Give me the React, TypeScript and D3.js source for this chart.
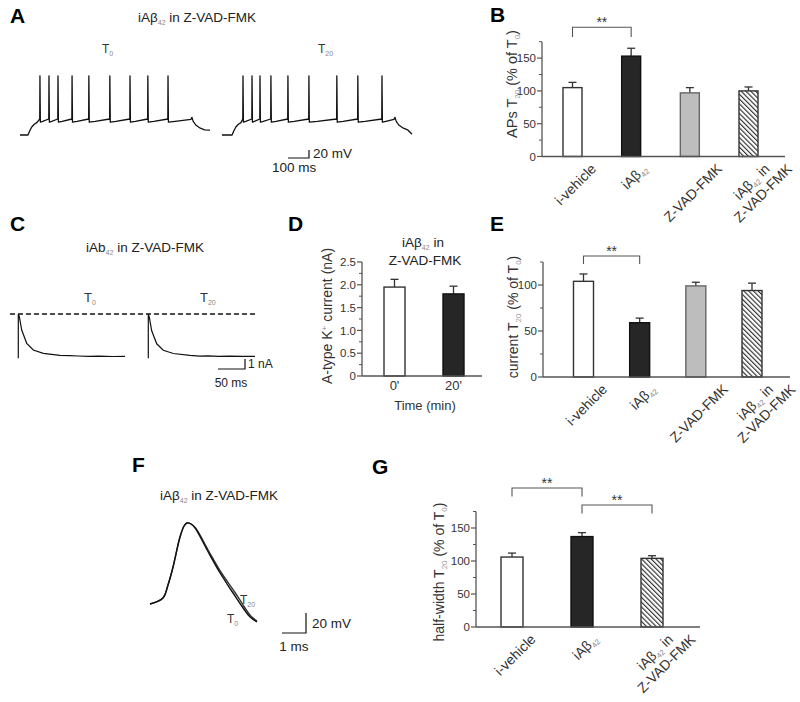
import React from "react";
import * as d3 from "d3";

const FONT = "'Liberation Sans', Arial, Helvetica, sans-serif";

// ---------------- data ----------------
// Panel B – APs T20 (% of T0)
const groupsB = ["i-vehicle", "iAβ42", "Z-VAD-FMK", "iAβ42 in|Z-VAD-FMK"];
const apsMean = [105, 153, 97, 100];
const apsSem = [8, 12, 8, 6];
const ticksB = [0, 50, 100, 150];

// Panel D – A-type K+ current (nA)
const timeGroups = ["0'", "20'"];
const kMean = [1.95, 1.8];
const kSem = [0.17, 0.17];
const ticksD = [0, 0.5, 1.0, 1.5, 2.0, 2.5];

// Panel E – current T20 (% of T0)
const groupsE = ["i-vehicle", "iAβ42", "Z-VAD-FMK", "iAβ42 in|Z-VAD-FMK"];
const currMean = [104, 59, 99, 94];
const currSem = [8, 5, 4, 8];
const ticksE = [0, 50, 100];

// Panel G – half-width T20 (% of T0)
const groupsG = ["i-vehicle", "iAβ42", "iAβ42 in|Z-VAD-FMK"];
const hwMean = [106, 137, 104];
const hwSem = [6, 6, 4];
const ticksG = [0, 50, 100, 150];

// Panel A – spike times (ms) in the two recordings
const apT0Spikes = [95, 138, 181, 248, 328, 428, 524, 609, 705];
const apT20Spikes = [100, 143, 181, 233, 314, 414, 547, 647, 762];

// Panel C – A-type current traces [ms, nA]
const iT0 = [[0, 0], [0, 4.43], [1.9, 4.16], [6.3, 2.83], [15.6, 1.5], [27.8, 0.83], [46.3, 0.5], [77.2, 0.3], [95, 0.26], [111, 0.23], [130, 0.2], [150, 0.22], [175, 0.18], [197.6, 0.2]];
const iT20 = [[0, 0], [0, 4.43], [1.9, 4.1], [6.3, 2.75], [15.6, 1.45], [27.8, 0.8], [46.3, 0.48], [77.2, 0.3], [95, 0.22], [111, 0.24], [130, 0.19], [150, 0.21], [175, 0.2], [197.6, 0.2]];

// Panel F – single AP waveforms [ms, mV rel.]
const apWaveT0 = [[0, 0], [0.54, 6], [0.75, 19], [0.96, 37], [1.25, 67], [1.42, 78], [1.54, 81], [1.71, 80], [1.88, 76], [2.38, 54], [2.92, 31], [3.46, 11], [3.88, -4], [4.17, -13], [4.46, -18]];
const apWaveT20 = [[0, 0], [0.54, 6], [0.75, 19], [0.96, 37], [1.25, 67], [1.42, 78], [1.54, 81], [1.71, 80], [1.9, 76], [2.42, 54], [2.98, 31], [3.53, 12], [3.93, -3], [4.2, -12], [4.46, -17]];

// significance comparisons (group index pairs)
const sigB = [[0, 1]];
const sigE = [[0, 1]];
const sigG = [[0, 1], [1, 2]];

// ---------------- styles ----------------
const fills4 = ["#ffffff", "#262626", "#bdbdbd", "url(#hatch)"];
const strokes4 = ["#333", "#111", "#666", "#333"];
const fills3 = ["#ffffff", "#262626", "url(#hatch)"];
const strokes3 = ["#333", "#111", "#333"];
const AXIS = "#555";
const TXT = "#333";

// ---------------- helpers ----------------
type Part = { t: string; sub?: boolean; sup?: boolean };
const parse = (s: string): Part[] =>
  s.split(/(\d+)/).filter((x) => x).map((t) => ({ t, sub: /^\d+$/.test(t) }));

let ctx: CanvasRenderingContext2D | null = null;
function textW(s: string, size: number) {
  if (!ctx) ctx = document.createElement("canvas").getContext("2d");
  ctx!.font = `${size}px "Liberation Sans"`;
  return ctx!.measureText(s).width;
}
function partsW(parts: Part[], size: number, sub: number) {
  return parts.reduce((a, p) => a + textW(p.t, p.sub || p.sup ? sub : size), 0);
}
function renderParts(parts: Part[], sub: number, shift: number, subFill: string) {
  let cur = 0;
  return parts.map((p, i) => {
    const target = p.sub ? shift : p.sup ? -shift * 1.6 : 0;
    const dy = target - cur;
    cur = target;
    return (
      <tspan key={i} dy={dy} fontSize={p.sub || p.sup ? sub : undefined} fill={p.sub || p.sup ? subFill : undefined}>
        {p.t}
      </tspan>
    );
  });
}

function CatLabel({ cx, axisY, text, size }: { cx: number; axisY: number; text: string; size: number }) {
  const lines = text.split("|").map(parse);
  const sub = size * 0.55;
  const L1 = partsW(lines[0], size, sub);
  const H = size * 0.95;
  const gx = cx + 3;
  const gy = axisY + 5 + (0.707 * (L1 + H)) / 2;
  const lh = size * 1.15;
  return (
    <g transform={`translate(${gx},${gy}) rotate(-45)`}>
      {lines.map((parts, i) => (
        <text key={i} x={0} y={i * lh + size * 0.35} textAnchor="middle" fontSize={size} fill={TXT}>
          {renderParts(parts, sub, 3, "#888")}
        </text>
      ))}
    </g>
  );
}

type BarProps = {
  axisX: number;
  xEnd: number;
  y0: number;
  yTop: number;
  ymax: number;
  ticks: number[];
  minor: number;
  fmt: (d: number) => string;
  first: number;
  last: number;
  means: number[];
  sems: number[];
  fills: string[];
  strokes: string[];
  barW: number;
  cats?: string[];
  catSize?: number;
  tickSize: number;
  sig?: number[][];
  sigTops?: number[];
  sigDrop?: number;
};

function BarPanel(p: BarProps) {
  const n = p.means.length;
  const y = d3.scaleLinear().domain([0, p.ymax]).range([p.y0, p.yTop]);
  const x = d3.scaleLinear().domain([0, n - 1]).range([p.first, p.last]);
  const minors = d3.range(0, p.ymax + 1e-9, p.minor).filter((v) => !p.ticks.some((t) => Math.abs(t - v) < 1e-9));
  return (
    <g>
      {p.means.map((m, i) => {
        const cx = x(i);
        const top = y(m);
        const et = y(m + p.sems[i]);
        return (
          <g key={i}>
            <line x1={cx} x2={cx} y1={top} y2={et} stroke="#333" strokeWidth={1.3} />
            <line x1={cx - 4} x2={cx + 4} y1={et} y2={et} stroke="#333" strokeWidth={1.3} />
            <rect x={cx - p.barW / 2} y={top} width={p.barW} height={p.y0 - top} fill={p.fills[i]} stroke={p.strokes[i]} strokeWidth={1.4} />
          </g>
        );
      })}
      <line x1={p.axisX} x2={p.axisX} y1={p.y0} y2={p.yTop} stroke={AXIS} strokeWidth={1.3} />
      <line x1={p.axisX} x2={p.xEnd} y1={p.y0} y2={p.y0} stroke={AXIS} strokeWidth={1.3} />
      {p.ticks.map((t) => (
        <g key={"t" + t}>
          <line x1={p.axisX - 5} x2={p.axisX} y1={y(t)} y2={y(t)} stroke={AXIS} strokeWidth={1.2} />
          <text x={p.axisX - 6} y={y(t) + p.tickSize * 0.36} textAnchor="end" fontSize={p.tickSize} fill={TXT}>
            {p.fmt(t)}
          </text>
        </g>
      ))}
      {minors.map((t) => (
        <line key={"m" + t} x1={p.axisX - 3} x2={p.axisX} y1={y(t)} y2={y(t)} stroke={AXIS} strokeWidth={1} />
      ))}
      {p.cats &&
        p.cats.map((c, i) => <CatLabel key={c + i} cx={x(i)} axisY={p.y0} text={c} size={p.catSize || 13} />)}
      {p.sig &&
        p.sig.map(([a, b], k) => {
          const top = p.sigTops![k];
          const bottom = top + (p.sigDrop || 9);
          const x1 = x(a);
          const x2 = x(b);
          return (
            <g key={"s" + k}>
              <path d={`M${x1},${bottom}V${top}H${x2}V${bottom}`} fill="none" stroke="#555" strokeWidth={1.1} />
              <text x={(x1 + x2) / 2} y={top - 0.5} textAnchor="middle" fontSize={14} fill="#333">
                **
              </text>
            </g>
          );
        })}
    </g>
  );
}

function apTrain(spikes: number[], onset: number, stepEnd: number, end: number, endV: number) {
  const pts: number[][] = [
    [0, -70],
    [onset, -70],
    [onset + 8, -60],
    [onset + 18, -50],
    [onset + 30, -43],
    [onset + 42, -39],
  ];
  spikes.forEach((s, i) => {
    const next = i < spikes.length - 1 ? spikes[i + 1] : stepEnd;
    pts.push([s - 1, -30], [s, 78], [s + 2, -38], [s + (next - s) * 0.3, -36]);
  });
  pts.push([stepEnd - 5, -31], [stepEnd, -26], [stepEnd + 6, -36], [stepEnd + 18, -45], [stepEnd + 40, -53], [stepEnd + 60, -57], [end, endV]);
  return pts;
}

export default function App() {
  // Panel A scales
  const xA = d3.scaleLinear().domain([0, 905]).range([0, 190]);
  const yA = d3.scaleLinear().domain([-70, 30]).range([135, 95]);
  const lineA = d3.line<number[]>().x((d) => xA(d[0])).y((d) => yA(d[1]));
  const trainT0 = apTrain(apT0Spikes, 38, 819, 905, -58);
  const trainT20 = apTrain(apT20Spikes, 48, 824, 905, -68);

  // Panel C scales
  const xC = d3.scaleLinear().domain([0, 50]).range([0, 27]);
  const yC = d3.scaleLinear().domain([0, 1]).range([358.3, 348.3]);
  const lineC = d3.line<number[]>().x((d) => xC(d[0])).y((d) => yC(d[1]));

  // Panel F scales
  const xF = d3.scaleLinear().domain([0, 1]).range([150, 174]);
  const yF = d3.scaleLinear().domain([0, 20]).range([604, 584]);
  const lineF = d3.line<number[]>().x((d) => xF(d[0])).y((d) => yF(d[1])).curve(d3.curveCatmullRom.alpha(0.5));

  const fmtInt = (d: number) => String(d);
  const fmtD = (d: number) => (d === 0 ? "0" : d3.format(".1f")(d));
  const TICK = 11.5;
  const CAT = 14;

  return (
    <svg
      width={800}
      height={702}
      viewBox="0 0 800 702"
      style={{ position: "absolute", left: 0, top: 0, background: "#fff" }}
      fontFamily={FONT}
    >
      <defs>
        <pattern id="hatch" patternUnits="userSpaceOnUse" width={3.4} height={3.4} patternTransform="rotate(-45)">
          <rect width={3.4} height={3.4} fill="#fff" />
          <line x1={0.6} y1={0} x2={0.6} y2={3.4} stroke="#111" strokeWidth={1} />
        </pattern>
      </defs>
      <rect width={800} height={702} fill="#fff" />

      {/* ---------- Panel A ---------- */}
      <text x={10} y={23} fontSize={21} fontWeight="bold" fill="#000">A</text>
      <text x={138} y={22} fontSize={13.5} fill="#222">
        {renderParts(parse("iAβ42"), 7, 3, "#888")}
        <tspan dy={-3}>{"  in Z-VAD-FMK"}</tspan>
      </text>
      <text x={102} y={53} fontSize={12} fill="#333">
        T<tspan dy={3} fontSize={7} fill="#888">0</tspan>
      </text>
      <text x={318} y={53} fontSize={12} fill="#333">
        T<tspan dy={3} fontSize={7} fill="#888">20</tspan>
      </text>
      <g transform="translate(20,0)">
        <path d={lineA(trainT0) || ""} fill="none" stroke="#111" strokeWidth={1.3} strokeLinejoin="round" />
      </g>
      <g transform="translate(222,0)">
        <path d={lineA(trainT20) || ""} fill="none" stroke="#111" strokeWidth={1.3} strokeLinejoin="round" />
      </g>
      <path d={`M288,158H${288 + xA(100)}V${158 - (yA(-50) - yA(-30))}`} fill="none" stroke="#111" strokeWidth={1.2} />
      <text x={313} y={158} fontSize={13.5} fill="#222">20 mV</text>
      <text x={272} y={172} fontSize={13.5} fill="#222">100 ms</text>

      {/* ---------- Panel B ---------- */}
      <text x={490} y={22} fontSize={21} fontWeight="bold" fill="#000">B</text>
      <BarPanel
        axisX={542}
        xEnd={785}
        y0={156.5}
        yTop={41.7}
        ymax={175}
        ticks={ticksB}
        minor={25}
        fmt={fmtInt}
        first={572.5}
        last={748.5}
        means={apsMean}
        sems={apsSem}
        fills={fills4}
        strokes={strokes4}
        barW={19}
        cats={groupsB}
        catSize={CAT}
        tickSize={TICK}
        sig={sigB}
        sigTops={[27.3]}
        sigDrop={9.7}
      />
      <text transform="translate(517,84) rotate(-90)" textAnchor="middle" fontSize={14.5} fill={TXT}>
        APs T<tspan dy={3} fontSize={8} fill="#999">20</tspan>
        <tspan dy={-3}> (% of T</tspan>
        <tspan dy={3} fontSize={8} fill="#999">0</tspan>
        <tspan dy={-3}>)</tspan>
      </text>

      {/* ---------- Panel C ---------- */}
      <text x={10} y={231} fontSize={21} fontWeight="bold" fill="#000">C</text>
      <text x={145} y={252} fontSize={13.5} textAnchor="middle" fill="#222">
        {renderParts(parse("iAb42"), 7, 3, "#888")}
        <tspan dy={-3}>{"  in Z-VAD-FMK"}</tspan>
      </text>
      <text x={84} y={302} fontSize={13} fill="#333">
        T<tspan dy={3} fontSize={7} fill="#888">0</tspan>
      </text>
      <text x={200} y={302} fontSize={13} fill="#333">
        T<tspan dy={3} fontSize={7} fill="#888">20</tspan>
      </text>
      <line x1={10} x2={258} y1={314} y2={314} stroke="#111" strokeWidth={1.4} strokeDasharray="5,3" />
      <g transform="translate(18.3,0)">
        <path d={lineC(iT0) || ""} fill="none" stroke="#111" strokeWidth={1.2} />
      </g>
      <g transform="translate(148.3,0)">
        <path d={lineC(iT20) || ""} fill="none" stroke="#111" strokeWidth={1.2} />
      </g>
      <path d={`M218,369H${218 + xC(50)}V${369 - (yC(0) - yC(1))}`} fill="none" stroke="#111" strokeWidth={1.2} />
      <text x={248} y={368} fontSize={12} fill="#222">1 nA</text>
      <text x={231} y={387} fontSize={12} textAnchor="middle" fill="#222">50 ms</text>

      {/* ---------- Panel D ---------- */}
      <text x={288} y={231} fontSize={21} fontWeight="bold" fill="#000">D</text>
      <text x={423} y={247} fontSize={13.5} textAnchor="middle" fill="#222">
        {renderParts(parse("iAβ42"), 7, 3, "#888")}
        <tspan dy={-3}>{"  in"}</tspan>
      </text>
      <text x={425} y={265} fontSize={13.5} textAnchor="middle" fill="#222">Z-VAD-FMK</text>
      <BarPanel
        axisX={362}
        xEnd={482}
        y0={376}
        yTop={262}
        ymax={2.5}
        ticks={ticksD}
        minor={0.25}
        fmt={fmtD}
        first={394.5}
        last={453.5}
        means={kMean}
        sems={kSem}
        fills={["#ffffff", "#262626"]}
        strokes={["#333", "#111"]}
        barW={21}
        tickSize={TICK}
      />
      {timeGroups.map((t, i) => (
        <text key={t} x={394.5 + i * 59} y={390} textAnchor="middle" fontSize={13} fill={TXT}>
          {t}
        </text>
      ))}
      <text x={425} y={410} textAnchor="middle" fontSize={13} fill={TXT}>Time (min)</text>
      <text transform="translate(332,316) rotate(-90)" textAnchor="middle" fontSize={14} fill={TXT}>
        A-type K<tspan dy={-5} fontSize={8} fill="#888">+</tspan>
        <tspan dy={5}> current (nA)</tspan>
      </text>

      {/* ---------- Panel E ---------- */}
      <text x={490} y={231} fontSize={21} fontWeight="bold" fill="#000">E</text>
      <BarPanel
        axisX={543}
        xEnd={790}
        y0={377}
        yTop={262}
        ymax={125}
        ticks={ticksE}
        minor={25}
        fmt={fmtInt}
        first={583.5}
        last={752}
        means={currMean}
        sems={currSem}
        fills={fills4}
        strokes={strokes4}
        barW={20}
        cats={groupsE}
        catSize={CAT}
        tickSize={TICK}
        sig={sigE}
        sigTops={[256]}
        sigDrop={8}
      />
      <text transform="translate(518,317) rotate(-90)" textAnchor="middle" fontSize={14} fill={TXT}>
        current T<tspan dy={3} fontSize={8} fill="#999">20</tspan>
        <tspan dy={-3}> (% of T</tspan>
        <tspan dy={3} fontSize={8} fill="#999">0</tspan>
        <tspan dy={-3}>)</tspan>
      </text>

      {/* ---------- Panel F ---------- */}
      <text x={132} y={472} fontSize={21} fontWeight="bold" fill="#000">F</text>
      <text x={160} y={500} fontSize={13.5} fill="#222">
        {renderParts(parse("iAβ42"), 7, 3, "#888")}
        <tspan dy={-3}>{"  in Z-VAD-FMK"}</tspan>
      </text>
      <path d={lineF(apWaveT20) || ""} fill="none" stroke="#333" strokeWidth={1.4} />
      <path d={lineF(apWaveT0) || ""} fill="none" stroke="#111" strokeWidth={1.4} />
      <text x={240} y={604} fontSize={12} fill="#333">
        T<tspan dy={3} fontSize={7} fill="#888">20</tspan>
      </text>
      <text x={227} y={623} fontSize={12} fill="#333">
        T<tspan dy={3} fontSize={7} fill="#888">0</tspan>
      </text>
      <path d={`M282,633H${282 + (xF(1) - xF(0))}V${633 - (yF(0) - yF(20))}`} fill="none" stroke="#111" strokeWidth={1.2} />
      <text x={312} y={628} fontSize={13.5} fill="#222">20 mV</text>
      <text x={294} y={651} fontSize={13.5} textAnchor="middle" fill="#222">1 ms</text>

      {/* ---------- Panel G ---------- */}
      <text x={372} y={474} fontSize={21} fontWeight="bold" fill="#000">G</text>
      <BarPanel
        axisX={476}
        xEnd={700}
        y0={627}
        yTop={511.5}
        ymax={175}
        ticks={ticksG}
        minor={25}
        fmt={fmtInt}
        first={512}
        last={652}
        means={hwMean}
        sems={hwSem}
        fills={fills3}
        strokes={strokes3}
        barW={22}
        cats={groupsG}
        catSize={CAT}
        tickSize={TICK}
        sig={sigG}
        sigTops={[488, 505]}
        sigDrop={8.5}
      />
      <text transform="translate(444,572) rotate(-90)" textAnchor="middle" fontSize={14} fill={TXT}>
        half-width T<tspan dy={3} fontSize={8} fill="#999">20</tspan>
        <tspan dy={-3}> (% of T</tspan>
        <tspan dy={3} fontSize={8} fill="#999">0</tspan>
        <tspan dy={-3}>)</tspan>
      </text>
    </svg>
  );
}
